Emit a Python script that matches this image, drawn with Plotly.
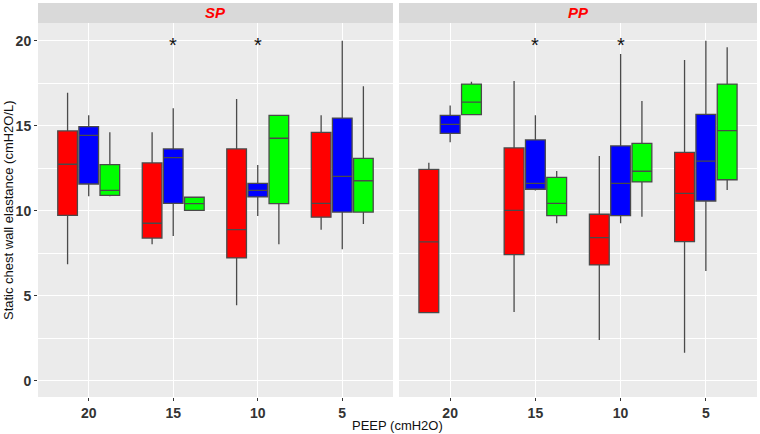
import plotly.graph_objects as go
from plotly.subplots import make_subplots

peep = ["20", "15", "10", "5"]
panels = ["SP", "PP"]
star_peep = ["15", "10"]
star_y = 20

# each tuple: (lower whisker, q1, median, q3, upper whisker) for PEEP 20, 15, 10, 5
sp_red = [(6.85, 9.72, 12.73, 14.69, 16.94), (8.02, 8.39, 9.26, 12.81, 14.61),
          (4.43, 7.22, 8.88, 13.63, 16.57), (8.88, 9.62, 10.43, 14.61, 15.61)]
sp_blue = [(10.85, 11.57, 14.43, 14.94, 15.61), (8.51, 10.43, 13.12, 13.63, 16.02),
           (9.69, 10.81, 11.2, 11.61, 12.69), (7.73, 9.92, 12.02, 15.45, 20.0)]
sp_green = [(10.85, 10.9, 11.2, 12.71, 14.61), (10.02, 10.02, 10.42, 10.79, 10.79),
            (8.02, 10.42, 14.26, 15.61, 15.61), (9.22, 9.92, 11.76, 13.08, 17.32)]
pp_red = [(4.0, 4.0, 8.16, 12.43, 12.82), (4.04, 7.41, 10.02, 13.69, 17.63),
          (2.39, 6.81, 8.41, 9.79, 13.22), (1.65, 8.18, 11.02, 13.43, 18.86)]
pp_blue = [(14.02, 14.55, 15.08, 15.61, 16.18), (11.18, 11.26, 11.61, 14.16, 15.61),
           (9.26, 9.71, 11.61, 13.81, 19.22), (6.45, 10.57, 12.92, 15.67, 20.0)]
pp_green = [(15.65, 15.65, 16.39, 17.45, 17.59), (9.26, 9.71, 10.43, 11.96, 12.34),
            (9.65, 11.69, 12.32, 13.96, 16.45), (11.22, 11.82, 14.71, 17.45, 19.61)]

colors = ["#FF0000", "#0000FF", "#00FF00"]
series = [[sp_red, sp_blue, sp_green], [pp_red, pp_blue, pp_green]]

fig = make_subplots(rows=1, cols=2, shared_yaxes=True, horizontal_spacing=0.0083)

for p, panel_series in enumerate(series):
    for s, data in enumerate(panel_series):
        fig.add_trace(go.Box(
            x=peep,
            lowerfence=[d[0] for d in data],
            q1=[d[1] for d in data],
            median=[d[2] for d in data],
            q3=[d[3] for d in data],
            upperfence=[d[4] for d in data],
            fillcolor=colors[s],
            line=dict(color="#4a4a4a", width=1.3),
            whiskerwidth=0,
            offsetgroup=str(s),
            showlegend=False,
            hoverinfo="skip",
        ), row=1, col=p + 1)
    xref = "x" if p == 0 else "x2"
    yref = "y" if p == 0 else "y2"
    for sx in star_peep:
        fig.add_annotation(x=peep.index(sx), y=star_y, xref=xref, yref=yref, text="*",
                           showarrow=False, yshift=-4, xanchor="center", yanchor="middle",
                           font=dict(size=20, color="#111111", family="Liberation Sans"))

ax_common = dict(showgrid=True, gridcolor="white", gridwidth=1.1, zeroline=False,
                 ticks="outside", ticklen=3, tickcolor="#333333", showline=False,
                 automargin=False,
                 tickfont=dict(family="Liberation Sans", size=14, color="#333333", weight="bold"))
fig.update_xaxes(**ax_common, type="category", categoryorder="array", categoryarray=peep,
                 range=[-0.6, 3.6])
fig.update_yaxes(**ax_common, range=[-0.96, 21.04], tickvals=[0, 5, 10, 15, 20],
                 minor=dict(showgrid=True, gridcolor="white", gridwidth=0.5, dtick=2.5, tick0=0))
fig.update_yaxes(showticklabels=False, ticks="", row=1, col=2)

fig.update_layout(
    width=760, height=434,
    margin=dict(l=38, r=3, t=23, b=37),
    paper_bgcolor="white", plot_bgcolor="#EBEBEB",
    boxmode="group", boxgap=0.25, boxgroupgap=0.07,
    font=dict(family="Liberation Sans"),
)
fig.update_layout(xaxis=dict(domain=[0, 0.4937]), xaxis2=dict(domain=[0.5021, 1]))

strip_h = 20 / 374
for i, (d, name) in enumerate(zip([[0, 0.4937], [0.5021, 1]], panels)):
    fig.add_shape(type="rect", xref="paper", yref="paper", x0=d[0], x1=d[1],
                  y0=1, y1=1 + strip_h, fillcolor="#D9D9D9", line=dict(width=0), layer="below")
    fig.add_annotation(xref="paper", yref="paper", x=(d[0] + d[1]) / 2, y=1 + strip_h / 2,
                       text="<b><i>" + name + "</i></b>", showarrow=False,
                       font=dict(size=15, color="#FF0000", family="Liberation Sans"),
                       xanchor="center", yanchor="middle")

fig.add_annotation(xref="paper", yref="paper", x=0.5, y=0, yshift=-19,
                   text="PEEP (cmH2O)", showarrow=False, xanchor="center", yanchor="top",
                   font=dict(size=13, color="#111111", family="Liberation Sans"))
fig.add_annotation(xref="paper", yref="paper", x=0, xshift=-30, y=0.5,
                   text="Static chest wall elastance (cmH2O/L)", showarrow=False,
                   textangle=-90, xanchor="center", yanchor="middle",
                   font=dict(size=13, color="#111111", family="Liberation Sans"))

fig.write_html("out.html", config={"displayModeBar": False},
               post_script="document.body.style.margin='0';document.body.style.overflow='hidden';")
